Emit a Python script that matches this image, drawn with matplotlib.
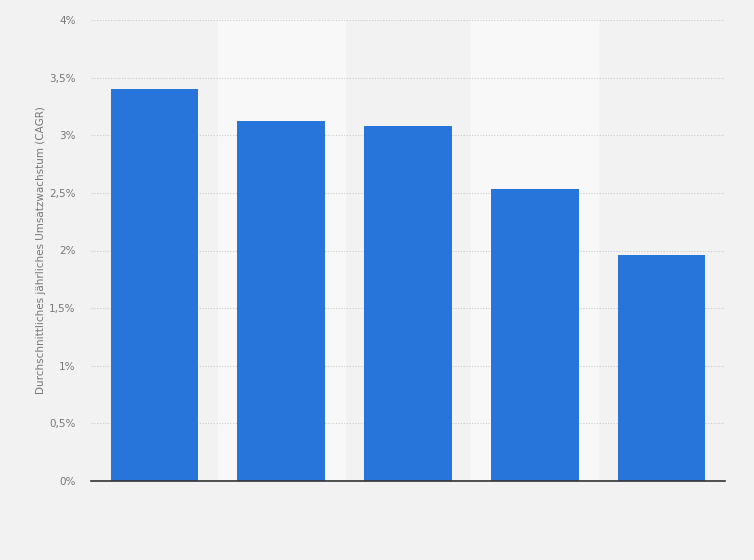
import numpy as np
from matplotlib import pyplot as plt
from matplotlib.ticker import FuncFormatter

categories = ["1", "2", "3", "4", "5"]
cagr = [3.40, 3.12, 3.08, 2.53, 1.96]
y_ticks = [0, 0.5, 1, 1.5, 2, 2.5, 3, 3.5, 4]

fig = plt.figure(figsize=(7.54, 5.6), dpi=100)
fig.patch.set_facecolor("#f2f2f2")
ax = fig.add_axes([91 / 754, 79 / 560, 634 / 754, 461 / 560])
ax.set_facecolor("#f2f2f2")

x = np.arange(len(categories))
for i in x:
    if i % 2 == 1:
        ax.axvspan(i - 0.5, i + 0.5, color="#f8f8f8", zorder=0)

ax.bar(x, cagr, width=0.69, color="#2775db", zorder=3)

ax.set_xlim(-0.5, len(categories) - 0.5)
ax.set_ylim(0, 4)
ax.set_yticks(y_ticks)
ax.yaxis.set_major_formatter(
    FuncFormatter(lambda v, _: f"{v:g}".replace(".", ",") + "%")
)
ax.set_xticks([])
ax.tick_params(axis="y", length=0, labelsize=7.5, labelcolor="#777777", pad=11)
ax.grid(axis="y", color="#cccccc", linestyle=(0, (1, 1.5)), linewidth=0.8, zorder=1)

for side in ["top", "right", "left"]:
    ax.spines[side].set_visible(False)
ax.spines["bottom"].set_color("#333333")
ax.spines["bottom"].set_linewidth(1.2)
ax.spines["bottom"].set_zorder(4)

ax.set_ylabel("Durchschnittliches jährliches Umsatzwachstum (CAGR)",
              fontsize=7.5, color="#777777", labelpad=2)

fig.savefig("out.png", dpi=100, facecolor=fig.get_facecolor())
